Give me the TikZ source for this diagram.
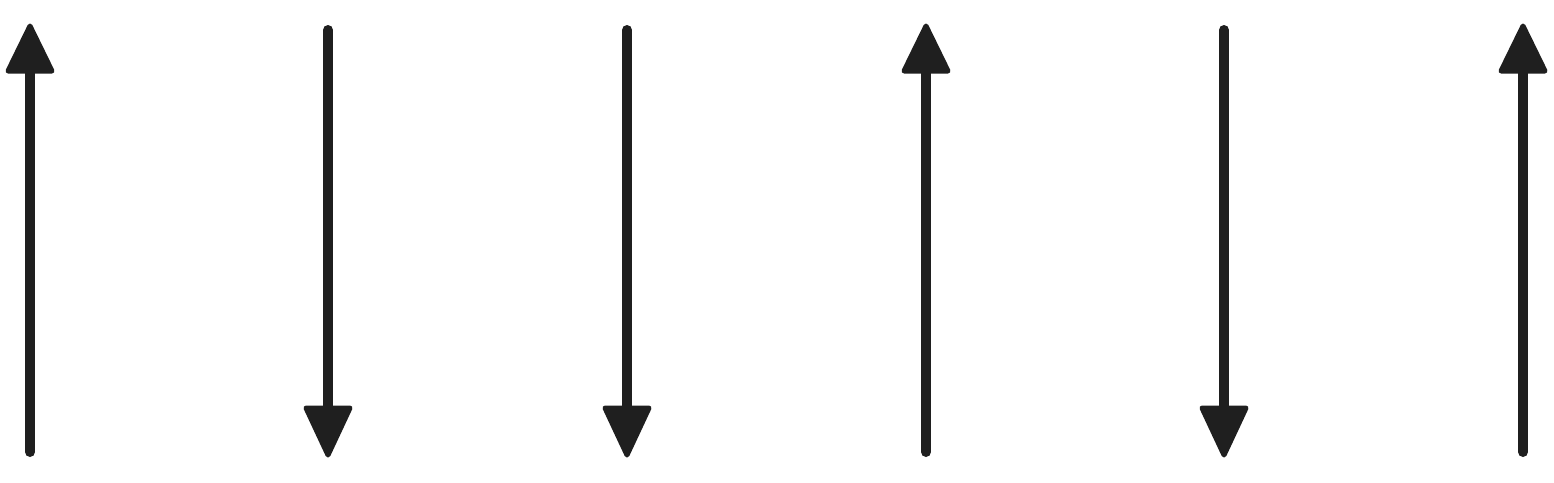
\documentclass[tikz,border=0pt]{standalone}
\definecolor{ink}{HTML}{1F1F1F}
\tikzset{
  shaft/.style={draw=ink, line width=10pt, line cap=round},
  headtip/.style={fill=ink, draw=ink, line width=5pt, line join=round}
}
\begin{document}
\begin{tikzpicture}[x=1pt,y=-1pt]
\useasboundingbox (0,0) rectangle (1554,482);
% up arrows
\foreach \n/\x in {1/30,4/926,6/1523}{
  \coordinate (s\n) at (\x,452);
  \coordinate (e\n) at (\x,72);
  \draw[shaft] (s\n) -- (e\n);
  \draw[headtip] (\x,26) -- (\x-22,71) -- (\x+22,71) -- cycle;
}
% down arrows
\foreach \n/\x in {2/328,3/627,5/1224}{
  \coordinate (s\n) at (\x,30);
  \coordinate (e\n) at (\x,410);
  \draw[shaft] (s\n) -- (e\n);
  \draw[headtip] (\x-22,408) -- (\x+22,408) -- (\x,455) -- cycle;
}
\end{tikzpicture}
\end{document}
